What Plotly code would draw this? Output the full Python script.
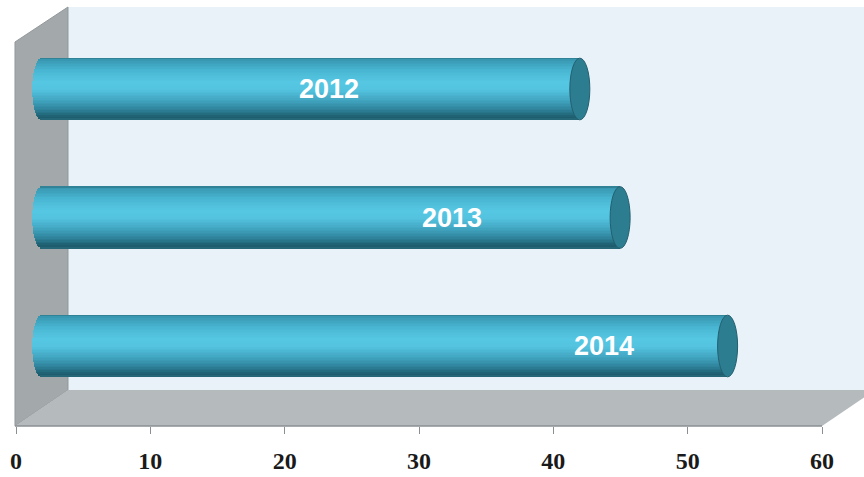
import math
import plotly.graph_objects as go

# ---- data ----
years = ["2012", "2013", "2014"]
values = [40, 43, 51]
tick_vals = [0, 10, 20, 30, 40, 50, 60]
tick_text = ["0", "10", "20", "30", "40", "50", "60"]

# ---- layout helpers (pixel -> paper) ----
W, H = 864, 477
def px(x):
    return x / W
def py(y):
    return 1 - y / H
def path(points):
    return "M " + " L ".join(f"{px(x):.5f},{py(y):.5f}" for x, y in points) + " Z"

# gradient stops for the cylinder shading (position 0=top, 1=bottom)
stops = [(0.00, (0x2c, 0x78, 0x8a)), (0.04, (0x3a, 0x9a, 0xb4)),
         (0.20, (0x48, 0xb6, 0xd2)), (0.40, (0x56, 0xc8, 0xe3)),
         (0.52, (0x53, 0xc3, 0xdf)), (0.70, (0x40, 0xa2, 0xbd)),
         (0.85, (0x2d, 0x80, 0x97)), (0.96, (0x1d, 0x5c, 0x6c)),
         (1.00, (0x2a, 0x6c, 0x7c))]
def shade(t):
    for (t0, c0), (t1, c1) in zip(stops[:-1], stops[1:]):
        if t0 <= t <= t1:
            f = (t - t0) / (t1 - t0)
            return "rgb(%d,%d,%d)" % tuple(round(a + (b - a) * f) for a, b in zip(c0, c1))
    return "rgb(%d,%d,%d)" % stops[-1][1]

n = 40
bar_w = 0.48
ypos = list(range(len(years)))

PXU = (822 - 16) / 60.0      # pixels per unit
x0_px = 42.5                 # pixel of value 0 on the bar plane
xmin = -1.2                  # extra room for the rounded left end
cap = 10 / PXU               # half width of the end ellipses in data units

fig = go.Figure()
for i in range(n):
    t = (i + 0.5) / n
    u = 2 * t - 1
    b = -cap * math.sqrt(max(0.0, 1 - u * u))
    fig.add_trace(go.Bar(
        x=[v - b for v in values], base=b, y=ypos, orientation="h",
        xaxis="x2", yaxis="y",
        width=bar_w / n + 0.003, offset=-bar_w / 2 + i * bar_w / n,
        marker=dict(color=shade(t), line=dict(width=0)),
        hoverinfo="skip", showlegend=False))

fig.add_trace(go.Scatter(x=[0, 60], y=[0, 0], xaxis="x", yaxis="y",
                         mode="markers", marker=dict(opacity=0),
                         hoverinfo="skip", showlegend=False))

shapes = []
shapes.append(dict(type="rect", xref="paper", yref="paper", layer="below",
                   x0=px(68), x1=px(864), y0=py(390), y1=py(7),
                   fillcolor="#e9f2f9", line=dict(width=0)))
shapes.append(dict(type="path", xref="paper", yref="paper", layer="below",
                   path=path([(15, 42), (68, 7), (68, 390), (15, 426)]),
                   fillcolor="#a3a8ab", line=dict(color="#93989b", width=1)))
shapes.append(dict(type="path", xref="paper", yref="paper", layer="below",
                   path=path([(15, 426), (68, 390), (864, 390), (864, 397.5), (822, 426)]),
                   fillcolor="#b5babd", line=dict(width=0)))
shapes.append(dict(type="line", xref="paper", yref="paper", layer="below",
                   x0=px(15), x1=px(822), y0=py(426), y1=py(426),
                   line=dict(color="#8a8f93", width=1.5)))

for yi, v in zip(ypos, values):
    shapes.append(dict(type="circle", xref="x2", yref="y", layer="above",
                       x0=v - cap, x1=v + cap, y0=yi - bar_w / 2, y1=yi + bar_w / 2,
                       fillcolor="#2d7d91", line=dict(color="#235f6f", width=1)))

label_x = [21.3, 30.5, 41.8]
annotations = []
for yi, yr, lx in zip(ypos, years, label_x):
    annotations.append(dict(x=lx, y=yi, xref="x2", yref="y", text=yr,
                            showarrow=False,
                            font=dict(family="Liberation Sans, Arial", size=27,
                                      color="white", weight="bold")))

fig.update_layout(
    width=W, height=H, margin=dict(l=0, r=0, t=0, b=0, autoexpand=False),
    paper_bgcolor="white", plot_bgcolor="rgba(0,0,0,0)",
    barmode="overlay", bargap=0, hovermode=False,
    shapes=shapes, annotations=annotations,
    xaxis=dict(domain=[px(16), px(822)], range=[0, 60], anchor="free",
               position=py(426), tickvals=tick_vals, ticktext=tick_text,
               ticks="outside", ticklen=7, tickcolor="#8a8f93", tickwidth=1,
               showgrid=False, zeroline=False, showline=False, automargin=False,
               tickfont=dict(family="Liberation Serif", size=24, color="#1a1a1a",
                             weight="bold"),
               ticklabelstandoff=6),
    xaxis2=dict(domain=[px(x0_px + xmin * PXU), px(x0_px + 60 * PXU)],
                range=[xmin, 60], anchor="y", visible=False, automargin=False),
    yaxis=dict(domain=[py(410.25), py(24.75)], range=[2.5, -0.5], anchor="x2",
               visible=False, automargin=False),
)

fig.write_html("out.html")
